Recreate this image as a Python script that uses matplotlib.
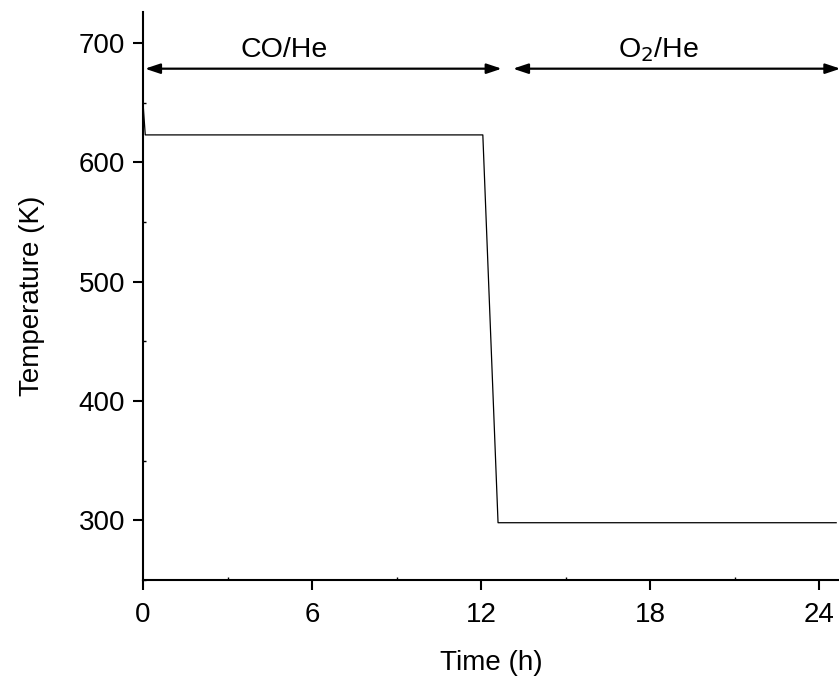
import matplotlib.pyplot as plt
from matplotlib.ticker import MultipleLocator

plt.rcParams['font.family'] = ['Liberation Sans', 'DejaVu Sans']

# temperature programme: CO/He treatment then O2/He at room temperature
time_h = [0.0, 0.08, 12.06, 12.6, 24.6]
temp_k = [650, 623, 623, 298, 298]

# gas phases shown as double arrows above the curve
phase_labels = ['CO/He', 'O$_2$/He']
phase_start = [0.07, 13.13]
phase_end = [12.73, 24.75]
label_x = [5.0, 18.3]
arrow_y = 678.5
label_y = 688

fig = plt.figure(figsize=(8.39, 6.77), dpi=100)
ax = fig.add_axes([143 / 839, 97 / 677, 696 / 839, 568 / 677])

ax.plot(time_h, temp_k, color='black', lw=0.9)

for lab, x0, x1, xt in zip(phase_labels, phase_start, phase_end, label_x):
    ax.annotate('', xy=(x0, arrow_y), xytext=(x1, arrow_y),
                arrowprops=dict(arrowstyle='<|-|>,head_length=0.9,head_width=0.3',
                                color='black', lw=1.6, shrinkA=0, shrinkB=0),
                annotation_clip=False)
    ax.text(xt, label_y, lab, ha='center', va='baseline', fontsize=20.5)

ax.set_xlim(0, 24.7)
ax.set_ylim(250, 726)
ax.xaxis.set_major_locator(MultipleLocator(6))
ax.xaxis.set_minor_locator(MultipleLocator(3))
ax.yaxis.set_major_locator(MultipleLocator(100))
ax.yaxis.set_minor_locator(MultipleLocator(50))

for side in ['top', 'right']:
    ax.spines[side].set_visible(False)
for side in ['left', 'bottom']:
    ax.spines[side].set_linewidth(1.5)

ax.tick_params(which='major', direction='out', length=7, width=1.5, labelsize=20)
ax.tick_params(axis='x', which='major', pad=9)
ax.tick_params(axis='y', which='major', pad=6)
ax.tick_params(which='minor', direction='in', length=2, width=1)

ax.set_xlabel('Time (h)', fontsize=20, labelpad=16)
ax.set_ylabel('Temperature (K)', fontsize=20, labelpad=24)

fig.savefig('out.png', dpi=100)
